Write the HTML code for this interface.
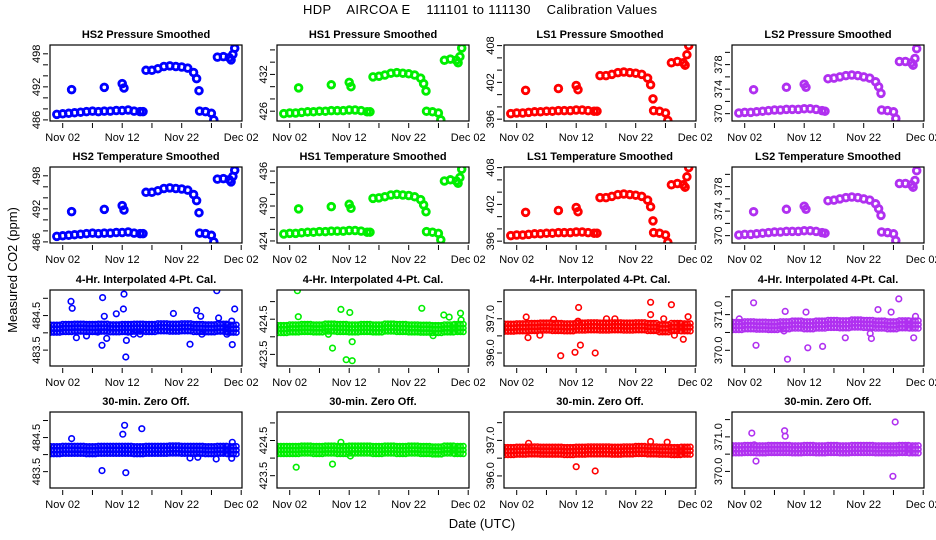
<!DOCTYPE html>
<html><head><meta charset="utf-8"><style>
html,body{margin:0;padding:0;background:#fff;}
svg{display:block;font-family:"Liberation Sans",Arial,sans-serif;}
</style></head><body>
<svg id="chart" width="936" height="540" viewBox="0 0 936 540" xmlns="http://www.w3.org/2000/svg">
<rect width="936" height="540" fill="#fff"/>
<text x="480" y="14" font-size="13" text-anchor="middle" textLength="354" style="white-space:pre">HDP    AIRCOA E    111101 to 111130    Calibration Values</text>
<text transform="translate(17,270) rotate(-90)" font-size="13" text-anchor="middle">Measured CO2 (ppm)</text>
<text x="482" y="528" font-size="13" text-anchor="middle">Date (UTC)</text>
<g id="panels"></g>
</svg>
<script>
// ---- data: rows 1-2 (smoothed) ----
const smoothTimes = [-1,0,1,2,3,4,5,6,7,8,9,10,11,12,13,13.5, 1.5,7,10,10.3, 14,15,16,17,18,19,20,21,22,22.5,22.9, 23,24,25,25.4, 26,27,28,28.3,28.6,28.9];
const hs2Values = [487.0,487.1,487.2,487.3,487.4,487.5,487.6,487.5,487.6,487.6,487.7,487.7,487.8,487.6,487.5,487.5, 491.5,491.9,492.6,491.8, 495.0,495.0,495.3,495.7,495.8,495.7,495.6,495.4,494.6,493.5,491.3, 487.6,487.5,487.2,486.0, 497.4,497.5,497.3,496.9,497.9,499.0];
const hs1Values = [425.6,425.7,425.7,425.8,425.9,425.9,426.0,426.0,426.1,426.1,426.1,426.2,426.2,426.1,425.9,425.9, 429.8,430.3,430.7,430.0, 431.6,431.7,431.9,432.2,432.3,432.2,432.1,431.9,431.4,430.5,429.3, 426.0,425.9,425.7,424.6, 434.3,434.5,434.3,433.9,434.9,436.3];
const ls1Values = [396.9,397.0,397.0,397.1,397.2,397.2,397.3,397.3,397.4,397.4,397.4,397.5,397.5,397.4,397.3,397.3, 400.7,401.0,401.5,400.8, 403.1,403.1,403.3,403.6,403.7,403.6,403.5,403.3,402.7,401.6,399.3, 397.4,397.3,397.0,395.8, 405.2,405.4,405.2,404.8,406.5,408.0];
const ls2Values = [370.1,370.2,370.2,370.3,370.4,370.5,370.6,370.6,370.7,370.7,370.7,370.8,370.8,370.7,370.5,370.4, 373.9,374.3,374.8,374.3, 375.7,375.8,376.0,376.2,376.3,376.2,376.0,375.8,375.2,374.4,373.3, 370.6,370.5,370.3,369.2, 378.5,378.5,378.3,377.9,379.0,380.6];
const hs2TempValues = [487.0,487.1,487.2,487.3,487.4,487.5,487.6,487.5,487.6,487.6,487.7,487.7,487.8,487.6,487.5,487.5, 491.5,491.9,492.6,491.8, 495.0,495.0,495.3,495.7,495.8,495.7,495.6,495.4,494.6,493.5,491.3, 487.6,487.5,487.2,486.0, 497.4,497.5,497.3,496.9,497.9,499.0];
const hs1TempValues = [425.2,425.3,425.3,425.4,425.5,425.5,425.6,425.6,425.7,425.7,425.7,425.8,425.8,425.7,425.5,425.5, 429.5,429.9,430.3,429.6, 431.3,431.4,431.6,431.9,432.0,431.9,431.8,431.6,431.1,430.2,429.0, 425.6,425.5,425.3,424.2, 434.3,434.5,434.3,433.9,434.9,436.3];
const ls1TempValues = [396.9,397.0,397.0,397.1,397.2,397.2,397.3,397.3,397.4,397.4,397.4,397.5,397.5,397.4,397.3,397.3, 400.7,401.0,401.5,400.8, 403.1,403.1,403.3,403.6,403.7,403.6,403.5,403.3,402.7,401.6,399.3, 397.4,397.3,397.0,395.8, 405.2,405.4,405.2,404.8,406.5,408.0];
const ls2TempValues = [370.1,370.2,370.2,370.3,370.4,370.5,370.6,370.6,370.7,370.7,370.7,370.8,370.8,370.7,370.5,370.4, 373.9,374.3,374.8,374.3, 375.7,375.8,376.0,376.2,376.3,376.2,376.0,375.8,375.2,374.4,373.3, 370.6,370.5,370.3,369.2, 378.5,378.5,378.3,377.9,379.0,380.6];

// ---- data: rows 3-4 (band centres every 2 days + outliers [day, value]) ----
const bandTimes = [-1,1,3,5,7,9,11,13,15,17,19,21,23,25,27,28.7];
const hs2CalBand = [484.12,484.14,484.15,484.14,484.15,484.13,484.14,484.15,484.14,484.16,484.15,484.16,484.14,484.13,484.15,484.12];
const hs1CalBand = [424.22,424.24,424.25,424.24,424.26,424.25,424.24,424.25,424.24,424.26,424.25,424.24,424.23,424.22,424.24,424.25];
const ls1CalBand = [396.74,396.75,396.76,396.77,396.76,396.75,396.77,396.78,396.77,396.78,396.77,396.78,396.76,396.72,396.76,396.75];
const ls2CalBand = [370.68,370.70,370.69,370.68,370.70,370.72,370.70,370.72,370.74,370.73,370.75,370.74,370.72,370.70,370.73,370.72];
const hs2ZeroBand = [484.13,484.14,484.14,484.13,484.14,484.14,484.14,484.13,484.14,484.14,484.15,484.14,484.14,484.13,484.14,484.13];
const hs1ZeroBand = [424.23,424.23,424.24,424.23,424.24,424.23,424.24,424.24,424.23,424.24,424.23,424.24,424.23,424.22,424.24,424.23];
const ls1ZeroBand = [396.70,396.71,396.72,396.71,396.71,396.70,396.71,396.72,396.72,396.71,396.72,396.73,396.72,396.71,396.70,396.71];
const ls2ZeroBand = [370.64,370.65,370.64,370.65,370.65,370.64,370.65,370.64,370.65,370.64,370.65,370.65,370.64,370.64,370.65,370.64];
const hs2CalOut = [[1.4,484.91],[1.6,484.71],[2.3,483.86],[4,483.91],[5.9,484.02],[6.7,485.02],[7.0,484.48],[6.6,483.64],[7.4,483.84],[9.0,484.55],[10.3,485.12],[10.2,484.69],[10.7,483.78],[10.6,483.30],[11.0,484.02],[11.9,483.96],[13.0,483.96],[18.6,484.56],[21.4,483.67],[22.5,484.65],[23.4,483.96],[23.2,484.48],[25.9,485.22],[26.2,484.43],[28.4,484.34],[28.5,483.66],[28.9,484.69],[27.6,483.96]];
const hs1CalOut = [[1.3,425.31],[1.45,424.57],[7.2,423.68],[8.6,424.78],[9.5,423.35],[10.5,423.32],[10.1,424.69],[10.5,423.86],[22.2,424.81],[25.9,424.62],[26.8,424.56],[28.7,424.67],[28.8,424.48],[24.1,424.03],[6.5,424.07]];
const ls1CalOut = [[1.6,397.05],[1.9,396.45],[3.9,396.52],[7.4,395.92],[6.2,396.98],[9.8,396.02],[10.4,397.33],[10.3,396.93],[10.7,396.23],[13.2,396.0],[15.1,397.0],[16.5,397.0],[22.5,397.48],[22.5,397.12],[26.0,397.41],[24.7,397.0],[26.5,396.52],[28.0,396.40],[28.8,397.06],[29.1,396.76]];
const ls2CalOut = [[1.5,371.33],[1.9,370.14],[6.8,371.09],[7.2,369.75],[6.6,370.54],[10.3,371.07],[10.6,370.07],[13.1,370.11],[16.9,370.35],[21.3,370.33],[22.4,371.14],[24.6,371.07],[25.9,371.44],[28.7,370.95],[28.4,370.35],[21.1,370.47],[-0.9,370.88]];
const hs2ZeroOut = [[1.5,484.47],[6.6,483.53],[10.1,484.6],[10.4,484.86],[10.6,483.47],[13.3,484.76],[21.4,483.9],[22.7,483.92],[25.8,483.87],[28.4,483.89],[28.5,484.36]];
const hs1ZeroOut = [[1.1,423.74],[7.2,423.83],[8.6,424.45],[10.2,424.06]];
const ls1ZeroOut = [[10.0,396.26],[13.2,396.14],[22.5,396.97],[25.3,396.95],[2.0,396.92],[26.5,396.6]];
const ls2ZeroOut = [[1.2,371.11],[1.9,370.30],[6.7,371.18],[6.8,371.02],[25.3,371.43],[24.9,369.86],[1.6,370.77]];

// ---- tick labels ----
const xTickDays = [0,5,10,15,20,25,30];
const xTickLabels = ["Nov 02","","Nov 12","","Nov 22","","Dec 02"];

const NS = "http://www.w3.org/2000/svg";
const root = document.getElementById("panels");
const colLeft = [50,277,504,732];
const rowTop = [45,167,290,412];
const W = 192, H = 76;
const colors = ["#0000ff","#00ee00","#ff0000","#b030f0"];

function mk(tag, attrs, parent){
  const e = document.createElementNS(NS, tag);
  for (const k in attrs) e.setAttribute(k, attrs[k]);
  (parent||root).appendChild(e);
  return e;
}

const panels = [
 {r:0,c:0,title:"HS2 Pressure Smoothed",dom:[485.8,499.6],ticks:[486,488,490,492,494,496,498],labels:[486,492,498],dec:0,times:smoothTimes,vals:hs2Values},
 {r:0,c:1,title:"HS1 Pressure Smoothed",dom:[424.4,436.8],ticks:[426,428,430,432,434,436],labels:[426,432],dec:0,times:smoothTimes,vals:hs1Values},
 {r:0,c:2,title:"LS1 Pressure Smoothed",dom:[395.7,408.1],ticks:[396,398,400,402,404,406,408],labels:[396,402,408],dec:0,times:smoothTimes,vals:ls1Values},
 {r:0,c:3,title:"LS2 Pressure Smoothed",dom:[368.8,381.2],ticks:[370,372,374,376,378,380],labels:[370,374,378],dec:0,times:smoothTimes,vals:ls2Values},
 {r:1,c:0,title:"HS2 Temperature Smoothed",dom:[485.8,499.6],ticks:[486,488,490,492,494,496,498],labels:[486,492,498],dec:0,times:smoothTimes,vals:hs2TempValues},
 {r:1,c:1,title:"HS1 Temperature Smoothed",dom:[423.65,436.7],ticks:[424,426,428,430,432,434,436],labels:[424,430,436],dec:0,times:smoothTimes,vals:hs1TempValues},
 {r:1,c:2,title:"LS1 Temperature Smoothed",dom:[395.7,408.1],ticks:[396,398,400,402,404,406,408],labels:[396,402,408],dec:0,times:smoothTimes,vals:ls1TempValues},
 {r:1,c:3,title:"LS2 Temperature Smoothed",dom:[368.8,381.2],ticks:[370,372,374,376,378,380],labels:[370,374,378],dec:0,times:smoothTimes,vals:ls2TempValues},
 {r:2,c:0,title:"4-Hr. Interpolated 4-Pt. Cal.",dom:[483.04,485.24],ticks:[483.5,484,484.5,485],labels:[483.5,484.5],dec:1,band:hs2CalBand,out:hs2CalOut},
 {r:2,c:1,title:"4-Hr. Interpolated 4-Pt. Cal.",dom:[423.17,425.33],ticks:[423.5,424,424.5,425],labels:[423.5,424.5],dec:1,band:hs1CalBand,out:hs1CalOut},
 {r:2,c:2,title:"4-Hr. Interpolated 4-Pt. Cal.",dom:[395.62,397.84],ticks:[396,396.5,397,397.5],labels:[396,397],dec:1,band:ls1CalBand,out:ls1CalOut},
 {r:2,c:3,title:"4-Hr. Interpolated 4-Pt. Cal.",dom:[369.56,371.69],ticks:[370,370.5,371,371.5],labels:[370,371],dec:1,band:ls2CalBand,out:ls2CalOut},
 {r:3,c:0,title:"30-min. Zero Off.",dom:[483.02,485.25],ticks:[483.5,484,484.5,485],labels:[483.5,484.5],dec:1,band:hs2ZeroBand,out:hs2ZeroOut},
 {r:3,c:1,title:"30-min. Zero Off.",dom:[423.15,425.31],ticks:[423.5,424,424.5,425],labels:[423.5,424.5],dec:1,band:hs1ZeroBand,out:hs1ZeroOut},
 {r:3,c:2,title:"30-min. Zero Off.",dom:[395.66,397.8],ticks:[396,396.5,397,397.5],labels:[396,397],dec:1,band:ls1ZeroBand,out:ls1ZeroOut},
 {r:3,c:3,title:"30-min. Zero Off.",dom:[369.52,371.72],ticks:[370,370.5,371,371.5],labels:[370,371],dec:1,band:ls2ZeroBand,out:ls2ZeroOut}
];

panels.forEach(function(p, i){
  const L = colLeft[p.c], T = rowTop[p.r], B = T + H;
  const col = colors[p.c];
  const xs = function(t){ return L + 12.7 + t * 5.95; };
  const ys = function(v){ return B - (v - p.dom[0]) / (p.dom[1] - p.dom[0]) * H; };
  const g = mk("g", {});
  
  
  const clip = mk("clipPath", {id:"clip"+i}, g);
  mk("rect", {x:L, y:T, width:W, height:H}, clip);

  const title = mk("text", {x:L + W/2, y:T - 7, "font-size":11, "font-weight":"bold", "text-anchor":"middle"}, g);
  title.textContent = p.title;
  
  

  const pts = mk("g", {"clip-path":"url(#clip"+i+")", fill:"none", stroke:col}, g);
  
  
  if (p.vals){
    p.times.forEach(function(t, k){
      const c = mk("circle", {cx:xs(t).toFixed(1), cy:ys(p.vals[k]).toFixed(1), r:3.3, "stroke-width":2.9}, pts);
      
      
    });
  } else {
    const spread = (p.dom[1] - p.dom[0]) * 0.05;
    bandTimes.forEach(function(t, k){
      [-1,-0.5,0,0.5].forEach(function(dt){
        [-spread, 0, spread].forEach(function(dv){
          const c = mk("circle", {cx:xs(t+dt).toFixed(1), cy:ys(p.band[k]+dv).toFixed(1), r:2.6, "stroke-width":1.6}, pts);
          
          
        });
      });
    });
    p.out.forEach(function(o){
      const c = mk("circle", {cx:xs(o[0]).toFixed(1), cy:ys(o[1]).toFixed(1), r:2.8, "stroke-width":1.6}, pts);
      
      
    });
  }

  const box = mk("rect", {x:L, y:T, width:W, height:H, fill:"none", stroke:"#000", "stroke-width":1.2}, g);
  
  

  const xa = mk("g", {}, g);
  
  
  xTickDays.forEach(function(d, k){
    const x = xs(d);
    mk("line", {x1:x, x2:x, y1:B + 2, y2:B + 7, stroke:"#000", "stroke-width":1}, xa);
    if (xTickLabels[k]){
      const tx = mk("text", {x:x, y:B + 20, "font-size":11, "text-anchor":"middle"}, xa);
      tx.textContent = xTickLabels[k];
      
      
    }
  });
  const ya = mk("g", {}, g);
  
  
  p.ticks.forEach(function(v){
    const y = ys(v);
    mk("line", {x1:L - 7, x2:L - 2, y1:y, y2:y, stroke:"#000", "stroke-width":1}, ya);
  });
  p.labels.forEach(function(v){
    const y = ys(v);
    const tx = mk("text", {transform:"translate(" + (L - 10) + "," + y.toFixed(1) + ") rotate(-90)", "font-size":11, "text-anchor":"middle"}, ya);
    tx.textContent = v.toFixed(p.dec);
    
    
  });
});
</script>
</body></html>
